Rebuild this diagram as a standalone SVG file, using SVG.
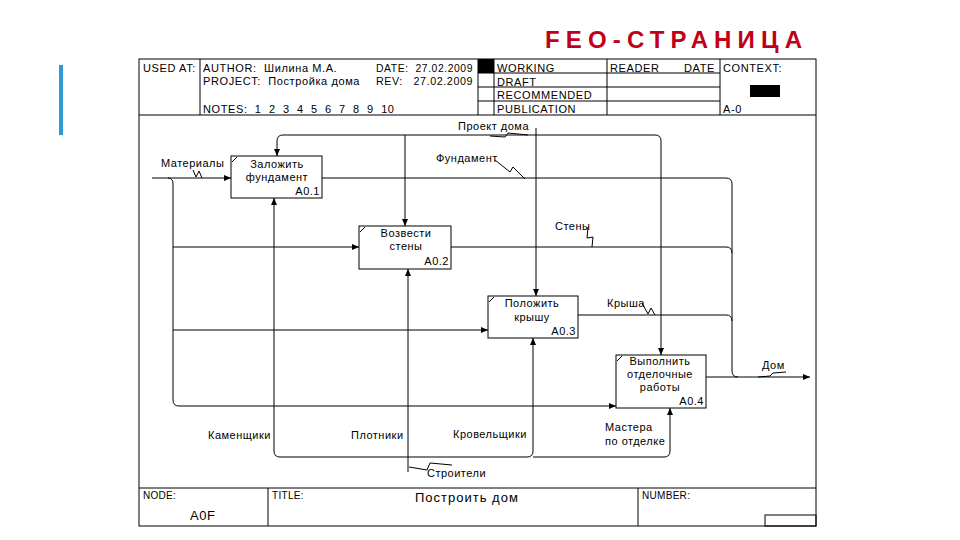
<svg xmlns="http://www.w3.org/2000/svg" width="960" height="540" viewBox="0 0 960 540">
<style>
.t{font-family:"Liberation Sans",Arial,sans-serif;font-size:11px;letter-spacing:0.5px;fill:#000}
.h{font-family:"Liberation Sans",Arial,sans-serif;font-size:11px;letter-spacing:0.6px;fill:#000}
.f{font-family:"Liberation Sans",Arial,sans-serif;font-size:10px;letter-spacing:0.3px;fill:#000}
.c{text-anchor:middle}
.r{text-anchor:end}
.ln{fill:none;stroke:#000;stroke-width:1}
.fr{fill:none;stroke:#000;stroke-width:1}
.box{fill:#fff;stroke:#000;stroke-width:1}
.sq{fill:none;stroke:#000;stroke-width:1}
.a{marker-end:url(#ar)}
</style>
<defs>
<marker id="ar" markerUnits="userSpaceOnUse" markerWidth="8" markerHeight="7" refX="7" refY="3" orient="auto">
<path d="M0,0 L7,3 L0,6 z" fill="#000"/>
</marker>
</defs>
<rect width="960" height="540" fill="#fff"/>
<rect x="59" y="65" width="4" height="70" fill="#2E9BD6"/>
<text x="545" y="48" font-family="Liberation Sans,Arial,sans-serif" font-size="24" font-weight="bold" fill="#C00018" textLength="257" lengthAdjust="spacing">FEO-СТРАНИЦА</text>

<g id="frame">
<rect class="fr" x="139" y="59" width="677" height="467"/>
<line class="fr" x1="139" y1="115" x2="816" y2="115"/>
<line class="fr" x1="200" y1="59" x2="200" y2="115"/>
<line class="fr" x1="478" y1="59" x2="478" y2="115"/>
<line class="fr" x1="494" y1="59" x2="494" y2="115"/>
<line class="fr" x1="607" y1="59" x2="607" y2="115"/>
<line class="fr" x1="720" y1="59" x2="720" y2="115"/>
<line class="fr" x1="478" y1="73" x2="720" y2="73"/>
<line class="fr" x1="478" y1="87" x2="720" y2="87"/>
<line class="fr" x1="478" y1="101" x2="720" y2="101"/>
<rect x="478" y="59" width="16" height="14" fill="#000"/>
<rect x="750" y="85" width="30" height="12" fill="#000"/>
<text class="h" x="143" y="72">USED AT:</text>
<text class="h" x="203" y="72" xml:space="preserve">AUTHOR:  Шилина М.А.</text>
<text class="h" x="203" y="85" xml:space="preserve">PROJECT:  Постройка дома</text>
<text class="h" x="376" y="72" xml:space="preserve" textLength="97" lengthAdjust="spacingAndGlyphs">DATE:  27.02.2009</text>
<text class="h" x="376" y="85" xml:space="preserve" textLength="97" lengthAdjust="spacingAndGlyphs">REV:   27.02.2009</text>
<text class="h" x="203" y="113" xml:space="preserve">NOTES:  1  2  3  4  5  6  7  8  9  10</text>
<text class="h" x="497" y="72">WORKING</text>
<text class="h" x="497" y="86">DRAFT</text>
<text class="h" x="497" y="99">RECOMMENDED</text>
<text class="h" x="497" y="113">PUBLICATION</text>
<text class="h" x="610" y="72">READER</text>
<text class="h" x="684" y="72">DATE</text>
<text class="h" x="723" y="72">CONTEXT:</text>
<text class="h" x="723" y="113">A-0</text>
<line class="fr" x1="139" y1="488" x2="816" y2="488"/>
<line class="fr" x1="268" y1="488" x2="268" y2="526"/>
<line class="fr" x1="638" y1="488" x2="638" y2="526"/>
<rect class="fr" x="765" y="515" width="51" height="11"/>
<text class="f" x="143" y="499">NODE:</text>
<text class="f" x="272" y="499">TITLE:</text>
<text class="f" x="642" y="499">NUMBER:</text>
<text x="190" y="520" font-family="Liberation Sans,Arial,sans-serif" font-size="13" letter-spacing="0.5">A0F</text>
<text x="415" y="502" font-family="Liberation Sans,Arial,sans-serif" font-size="13" letter-spacing="1">Построить дом</text>
</g>

<g id="connectors">
<path class="ln a" d="M152,178 H231"/>
<path class="ln a" d="M168,178 Q173,178 173,184 V400 Q173,406 179,406 H616"/>
<path class="ln a" d="M173,247 H359"/>
<path class="ln a" d="M173,330 H488"/>
<path class="ln a" d="M536,128 V296"/>
<path class="ln a" d="M536,135 H283 Q277,135 277,141 V156"/>
<path class="ln a" d="M536,135 H655 Q661,135 661,141 V355"/>
<path class="ln a" d="M405,135 V226"/>
<path class="ln" d="M322,178 H726 Q732,178 732,184 V371 Q732,377 738,377"/>
<path class="ln" d="M451,247 H726 Q732,247 732,253"/>
<path class="ln" d="M578,315 H726 Q732,315 732,321"/>
<path class="ln a" d="M706,377 H810"/>
<path class="ln a" d="M408,472 V269"/>
<path class="ln a" d="M408,457 H280 Q274,457 274,451 V198"/>
<path class="ln a" d="M408,457 H527 Q533,457 533,451 V338"/>
<path class="ln a" d="M533,457 H664 Q670,457 670,451 V408"/>
<polyline class="sq" points="193,170 196,177 199,171 202,178"/>
<polyline class="sq" points="490,136 505,137 508,133 528,135"/>
<polyline class="sq" points="495,160 510,172 513,167 525,179"/>
<polyline class="sq" points="588,227 587,238 593,237 592,247"/>
<polyline class="sq" points="642,303 648,314 651,308 655,315"/>
<polyline class="sq" points="758,377 770,376 773,373 786,372"/>
<polyline class="sq" points="409,467 427,470 430,463 452,465"/>
<text class="t" x="161" y="167">Материалы</text>
<text class="t" x="458" y="130">Проект дома</text>
<text class="t" x="436" y="162">Фундамент</text>
<text class="t" x="555" y="230">Стены</text>
<text class="t" x="607" y="307">Крыша</text>
<text class="t" x="762" y="369">Дом</text>
<text class="t" x="208" y="439">Каменщики</text>
<text class="t" x="351" y="439">Плотники</text>
<text class="t" x="453" y="438">Кровельщики</text>
<text class="t" x="605" y="431">Мастера</text>
<text class="t" x="605" y="445">по отделке</text>
<text class="t" x="427" y="477">Строители</text>
</g>

<g id="A01">
<rect class="box" x="231" y="156" width="91" height="42"/>
<line class="fr" x1="232" y1="162" x2="237" y2="157"/>
<text class="t c" x="277" y="168">Заложить</text>
<text class="t c" x="277" y="181">фундамент</text>
<text class="t r" x="320" y="195">A0.1</text>
</g>
<g id="A02">
<rect class="box" x="359" y="226" width="92" height="43"/>
<line class="fr" x1="360" y1="232" x2="365" y2="227"/>
<text class="t c" x="406" y="237">Возвести</text>
<text class="t c" x="406" y="250">стены</text>
<text class="t r" x="449" y="265">A0.2</text>
</g>
<g id="A03">
<rect class="box" x="488" y="296" width="90" height="42"/>
<line class="fr" x1="489" y1="302" x2="494" y2="297"/>
<text class="t c" x="532" y="307">Положить</text>
<text class="t c" x="532" y="321">крышу</text>
<text class="t r" x="576" y="335">A0.3</text>
</g>
<g id="A04">
<rect class="box" x="616" y="355" width="90" height="53"/>
<line class="fr" x1="617" y1="361" x2="622" y2="356"/>
<text class="t c" x="660" y="365">Выполнить</text>
<text class="t c" x="660" y="378">отделочные</text>
<text class="t c" x="660" y="391">работы</text>
<text class="t r" x="704" y="405">A0.4</text>
</g>
</svg>
